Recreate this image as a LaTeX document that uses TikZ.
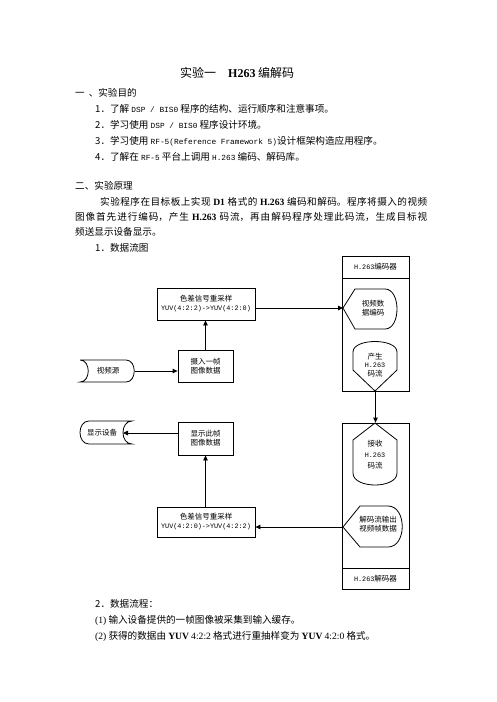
\documentclass[tikz,border=0pt]{standalone}
\usepackage{fontspec}
\setmainfont{Noto Sans CJK SC}
\setmonofont{Liberation Mono}
\newfontfamily\tm{Liberation Serif}
\usetikzlibrary{arrows.meta,positioning}
\XeTeXlinebreaklocale "zh"
\XeTeXlinebreakskip=0pt plus 1pt
\newcommand{\txtsz}{\fontsize{9.6}{15}\selectfont}
\newcommand{\dsz}{\fontsize{7.5}{9}\selectfont}
\newcommand{\mono}[1]{{\ttfamily\fontsize{7.8}{9}\selectfont #1}}
\newcommand{\dmono}[1]{{\ttfamily\fontsize{6.8}{9}\selectfont #1}}
\newcommand{\tmb}[1]{{\tm\bfseries #1}}

\begin{document}
\begin{tikzpicture}[x=1pt,y=-1pt,
  box/.style={draw,line width=0.8pt,inner sep=1pt,align=center,font=\dsz},
  shp/.style={draw,line width=0.8pt},
  lbl/.style={inner sep=0pt,align=center,font=\dsz},
  arr/.style={line width=0.8pt,-{Triangle[length=5pt,width=4.5pt]}},
  txt/.style={anchor=west,inner sep=0pt,font=\txtsz}]
  \useasboundingbox (0,0) rectangle (496,702);
  % page text
  \node[anchor=west,inner sep=0pt,font=\fontsize{12}{14}\selectfont] (title) at (180,73) {实验一\hspace{1em}\tmb{H263} 编解码};
  \node[txt] (sec1) at (75,93) {一\hspace{4pt}、实验目的};
  \node[txt] (aim1) at (95,109) {1．了解 \mono{DSP / BIS0} 程序的结构、运行顺序和注意事项。};
  \node[txt] (aim2) at (95,125) {2．学习使用 \mono{DSP / BIS0} 程序设计环境。};
  \node[txt] (aim3) at (95,141) {3．学习使用 \mono{RF-5(Reference Framework 5)}设计框架构造应用程序。};
  \node[txt] (aim4) at (95,157) {4．了解在 \mono{RF-5} 平台上调用 \mono{H.263} 编码、解码库。};
  \node[txt] (sec2) at (75,186) {二、实验原理};
  \node[anchor=base west,inner sep=0pt,text width=352pt,align=justify,font=\txtsz] (para) at (75,205.6)
    {\hspace*{25pt}实验程序在目标板上实现 \tmb{D1} 格式的 \tmb{H.263} 编码和解码。程序将摄入的视频\linebreak
     图像首先进行编码，产生 \tmb{H.263} 码流，再由解码程序处理此码流，生成目标视\linebreak
     频送显示设备显示。};
  \node[txt] (fig1) at (95,248) {1．数据流图};
  \node[txt] (flow) at (95,604) {2．数据流程：};
  \node[txt] (step1) at (95,620) {{\tm (1)} 输入设备提供的一帧图像被采集到输入缓存。};
  \node[txt] (step2) at (95,636) {{\tm (2)} 获得的数据由 \tmb{YUV} {\tm 4:2:2} 格式进行重抽样变为 \tmb{YUV} {\tm 4:2:0} 格式。};

  % encoder frame
  \node[box,minimum width=67pt,minimum height=135pt] (enc) at (375.5,323.5) {};
  \draw[shp] (342,278) -- (409,278);
  \node[lbl] (encT) at (375.5,267) {\dmono{H.263}编码器};
  \draw[shp] (343,308) -- (355,289) -- (385,289) .. controls (401,289) and (401,329) .. (385,329) -- (355,329) -- cycle;
  \coordinate (encIn) at (343,308);
  \node[lbl] (vcode) at (373,308) {视频数\\据编码};
  \draw[shp] (353,370) -- (353,352) .. controls (353,338) and (397,338) .. (397,352) -- (397,370) -- (375,391) -- cycle;
  \node[lbl,font=\fontsize{7.5}{8.5}\selectfont] (mkst) at (375,365) {产生\\\dmono{H.263}\\码流};

  % decoder frame
  \node[box,minimum width=67pt,minimum height=166pt] (dec) at (375.5,506) {};
  \draw[shp] (342,568) -- (409,568);
  \node[lbl] (decT) at (375.5,579) {\dmono{H.263}解码器};
  \draw[shp] (375,423) -- (397,440) -- (397,473) .. controls (397,489) and (353,489) .. (353,473) -- (353,440) -- cycle;
  \node[lbl,font=\fontsize{7.5}{11}\selectfont] (rcv) at (375,455) {接收\\\dmono{H.263}\\码流};
  \draw[shp] (343,527) -- (360,506) -- (388,506) .. controls (407,506) and (407,547) .. (388,547) -- (360,547) -- cycle;
  \coordinate (decOut) at (343,527);
  \node[lbl] (dout) at (378,524) {解码流输出\\视频帧数据};

  % left side
  \node[box,minimum width=98pt,minimum height=32pt] (rsUp) at (206,304) {色差信号重采样\\\dmono{YUV(4:2:2)->YUV(4:2:0)}};
  \node[box,minimum width=55pt,minimum height=32pt] (grab) at (205.5,366) {摄入一帧\\图像数据};
  \draw[shp] (80,360) -- (126,360) .. controls (137,360) and (137,382) .. (126,382) -- (80,382) .. controls (91,382) and (91,360) .. (80,360);
  \node[lbl] (src) at (108,371) {视频源};
  \coordinate (srcOut) at (135,371);
  \draw[shp] (89,421) -- (132,421) .. controls (120,421) and (120,444) .. (132,444) -- (89,444) .. controls (77,444) and (77,421) .. (89,421);
  \node[lbl] (disp) at (102,433) {显示设备};
  \coordinate (dispIn) at (123,433);
  \node[box,minimum width=55pt,minimum height=33pt] (show) at (205.5,438.5) {显示此帧\\图像数据};
  \node[box,minimum width=98pt,minimum height=30pt] (rsDn) at (206,522) {色差信号重采样\\\dmono{YUV(4:2:0)->YUV(4:2:2)}};

  % connectors
  \draw[arr] (srcOut) -- (grab.west |- srcOut);
  \draw[arr] (grab.north) -- (grab.north |- rsUp.south);
  \draw[arr] (rsUp.east |- encIn) -- (encIn);
  \draw[arr] (enc.south) -- (dec.north);
  \draw[arr] (decOut) -- (rsDn.east |- decOut);
  \draw[arr] (show.south |- rsDn.north) -- (show.south);
  \draw[arr] (show.west |- dispIn) -- (dispIn);
\end{tikzpicture}
\end{document}
